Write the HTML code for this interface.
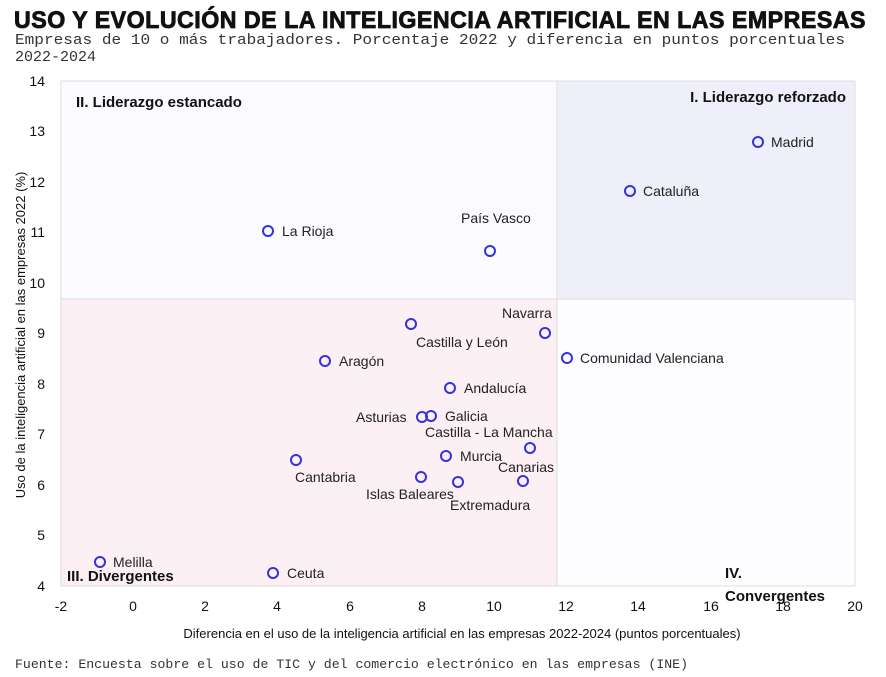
<!DOCTYPE html><html><head><meta charset="utf-8"><style>body{margin:0;background:#fff}svg{display:block}</style></head><body>
<svg width="886" height="677" xmlns="http://www.w3.org/2000/svg" font-family="Liberation Sans, sans-serif">
<text x="14" y="28" font-size="24" font-weight="900" fill="#111" stroke="#111" stroke-width="0.8" letter-spacing="0.5" textLength="852" lengthAdjust="spacingAndGlyphs">USO Y EVOLUCIÓN DE LA INTELIGENCIA ARTIFICIAL EN LAS EMPRESAS</text>
<text x="15" y="44" font-size="15" font-family="Liberation Mono, monospace" fill="#333" textLength="830" lengthAdjust="spacingAndGlyphs">Empresas de 10 o más trabajadores. Porcentaje 2022 y diferencia en puntos porcentuales</text>
<text x="15" y="61" font-size="15" font-family="Liberation Mono, monospace" fill="#333">2022-2024</text>
<rect x="61" y="81" width="496" height="218" fill="#fbfaff"/>
<rect x="557" y="81" width="298" height="218" fill="#eeeffa"/>
<rect x="61" y="299" width="496" height="287" fill="#fdf0f4"/>
<rect x="557" y="299" width="298" height="287" fill="#fdfcff"/>
<line x1="61" y1="81" x2="855" y2="81" stroke="#ddd"/>
<line x1="61" y1="81" x2="61" y2="586" stroke="#ddd"/>
<line x1="855" y1="81" x2="855" y2="586" stroke="#ddd"/>
<line x1="61" y1="586" x2="855" y2="586" stroke="#ddd"/>
<line x1="557" y1="81" x2="557" y2="586" stroke="#ddd"/>
<line x1="61" y1="299" x2="855" y2="299" stroke="#ddd"/>
<g font-size="14" fill="#111" text-anchor="end">
<text x="45" y="86">14</text><text x="45" y="136">13</text><text x="45" y="187">12</text><text x="45" y="237">11</text><text x="45" y="288">10</text><text x="45" y="338">9</text><text x="45" y="389">8</text><text x="45" y="439">7</text><text x="45" y="490">6</text><text x="45" y="540">5</text><text x="45" y="591">4</text>
</g>
<g font-size="14" fill="#111" text-anchor="middle">
<text x="61" y="611">-2</text><text x="133" y="611">0</text><text x="205" y="611">2</text><text x="277" y="611">4</text><text x="350" y="611">6</text><text x="422" y="611">8</text><text x="494" y="611">10</text><text x="566" y="611">12</text><text x="638" y="611">14</text><text x="711" y="611">16</text><text x="783" y="611">18</text><text x="855" y="611">20</text>
</g>
<text x="462" y="638" font-size="13" fill="#111" text-anchor="middle">Diferencia en el uso de la inteligencia artificial en las empresas 2022-2024 (puntos porcentuales)</text>
<text transform="translate(25,335) rotate(-90)" font-size="13" fill="#111" text-anchor="middle">Uso de la inteligencia artificial en las empresas 2022 (%)</text>
<g font-size="15" font-weight="bold" fill="#111">
<text x="76" y="107">II. Liderazgo estancado</text>
<text x="846" y="102" text-anchor="end">I. Liderazgo reforzado</text>
<text x="67" y="581">III. Divergentes</text>
<text x="725" y="578">IV.</text>
<text x="725" y="601">Convergentes</text>
</g>
<g fill="none" stroke="#3333dd" stroke-width="2">
<circle cx="758" cy="142" r="5"/><circle cx="630" cy="191" r="5"/><circle cx="268" cy="231" r="5"/><circle cx="490" cy="251" r="5"/>
<circle cx="411" cy="324" r="5"/><circle cx="545" cy="333" r="5"/><circle cx="567" cy="358" r="5"/><circle cx="325" cy="361" r="5"/>
<circle cx="450" cy="388" r="5"/><circle cx="422" cy="417" r="5"/><circle cx="431" cy="416" r="5"/><circle cx="530" cy="448" r="5"/>
<circle cx="446" cy="456" r="5"/><circle cx="296" cy="460" r="5"/><circle cx="421" cy="477" r="5"/><circle cx="458" cy="482" r="5"/>
<circle cx="523" cy="481" r="5"/><circle cx="100" cy="562" r="5"/><circle cx="273" cy="573" r="5"/>
</g>
<g font-size="14" fill="#222">
<text x="771" y="147">Madrid</text><text x="643" y="196">Cataluña</text><text x="282" y="236">La Rioja</text><text x="461" y="223">País Vasco</text>
<text x="502" y="318">Navarra</text><text x="416" y="347">Castilla y León</text><text x="580" y="363">Comunidad Valenciana</text><text x="339" y="366">Aragón</text>
<text x="464" y="393">Andalucía</text><text x="356" y="422">Asturias</text><text x="445" y="421">Galicia</text><text x="425" y="437">Castilla - La Mancha</text>
<text x="460" y="461">Murcia</text><text x="498" y="472">Canarias</text><text x="295" y="482">Cantabria</text><text x="366" y="499">Islas Baleares</text>
<text x="450" y="510">Extremadura</text><text x="113" y="567">Melilla</text><text x="287" y="578">Ceuta</text>
</g>
<text x="15" y="668" font-size="12.5" font-family="Liberation Mono, monospace" fill="#333" textLength="673" lengthAdjust="spacingAndGlyphs">Fuente: Encuesta sobre el uso de TIC y del comercio electrónico en las empresas (INE)</text>
</svg>
</body></html>
